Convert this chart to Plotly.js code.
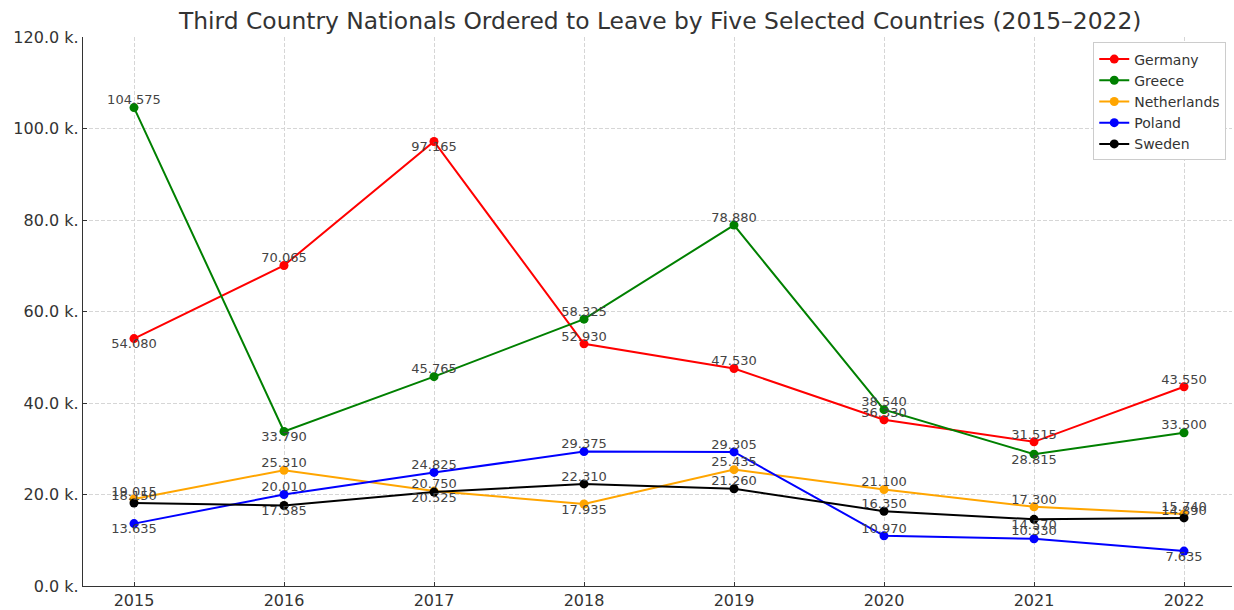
<!DOCTYPE html>
<html>
<head>
<meta charset="utf-8">
<script src="https://cdn.plot.ly/plotly-3.0.1.min.js"></script>
<style>html,body{margin:0;padding:0;background:#fff;}#chart{width:1234px;height:610px;}</style>
</head>
<body>
<div id="chart"></div>
<script>
const years = [2015, 2016, 2017, 2018, 2019, 2020, 2021, 2022];
const germany = [54080, 70065, 97165, 52930, 47530, 36330, 31515, 43550];
const greece = [104575, 33790, 45765, 58325, 78880, 38540, 28815, 33500];
const netherlands = [19015, 25310, 20750, 17935, 25435, 21100, 17300, 15740];
const poland = [13635, 20010, 24825, 29375, 29305, 10970, 10330, 7635];
const sweden = [18150, 17585, 20525, 22310, 21260, 16350, 14570, 14890];
const yTickVals = [0, 20000, 40000, 60000, 80000, 100000, 120000];
const yTickText = ["0.0 k.", "20.0 k.", "40.0 k.", "60.0 k.", "80.0 k.", "100.0 k.", "120.0 k."];

const seriesNames = ["Germany", "Greece", "Netherlands", "Poland", "Sweden"];
const seriesData = [germany, greece, netherlands, poland, sweden];
const colors = ["#ff0000", "#008000", "#ffa500", "#0000ff", "#000000"];
const positions = [
  ["bottom center","top center","bottom center","top center","top center","top center","top center","top center"],
  ["top center","bottom center","top center","top center","top center","top center","bottom center","top center"],
  ["top center","top center","top center","bottom center","top center","top center","top center","top center"],
  ["bottom center","top center","top center","top center","top center","top center","top center","bottom center"],
  ["top center","bottom center","bottom center","top center","top center","top center","bottom center","top center"]
];
function fmt(v){ return String(v).replace(/\B(?=(\d{3})+(?!\d))/g, "."); }

const traces = [];
seriesNames.forEach((n, i) => {
  traces.push({
    x: years, y: seriesData[i], name: n, type: "scatter", mode: "lines+markers",
    line: {color: colors[i], width: 2},
    marker: {color: colors[i], size: 9}
  });
});
seriesNames.forEach((n, i) => {
  traces.push({
    x: years, y: seriesData[i], name: n + " labels", type: "scatter", mode: "text",
    showlegend: false,
    text: seriesData[i].map(fmt),
    textposition: positions[i],
    textfont: {family: "DejaVu Sans", size: 13, color: "#444"},
    cliponaxis: false
  });
});

const layout = {
  width: 1234, height: 610,
  margin: {l: 83, r: 2, t: 37, b: 24},
  paper_bgcolor: "#fff", plot_bgcolor: "#fff",
  font: {family: "DejaVu Sans", color: "#333"},
  title: {text: "Third Country Nationals Ordered to Leave by Five Selected Countries (2015–2022)",
    font: {size: 23.4, color: "#333"}, x: 0.535, xanchor: "center", y: 0.966, yanchor: "middle"},
  xaxis: {range: [2014.66, 2022.32], tickvals: years, ticktext: years.map(String),
    showgrid: true, gridcolor: "#d6d6d6", griddash: "4px,2px", gridwidth: 1,
    showline: true, linecolor: "#333", linewidth: 1.2, ticks: "inside", ticklen: 4, tickcolor: "#333",
    tickfont: {size: 16, color: "#333"}, zeroline: false},
  yaxis: {range: [0, 120000], tickvals: yTickVals, ticktext: yTickText,
    showgrid: true, gridcolor: "#d6d6d6", griddash: "4px,2px", gridwidth: 1,
    showline: true, linecolor: "#333", linewidth: 1.2, ticks: "inside", ticklen: 4, tickcolor: "#333",
    tickfont: {size: 16, color: "#333"}, zeroline: false},
  legend: {x: 0.995, xanchor: "right", y: 0.99, yanchor: "top", bgcolor: "#fff",
    bordercolor: "#cccccc", borderwidth: 1, font: {size: 14, color: "#333"}},
  showlegend: true
};
Plotly.newPlot("chart", traces, layout, {displayModeBar: false, staticPlot: true});
</script>
</body>
</html>
